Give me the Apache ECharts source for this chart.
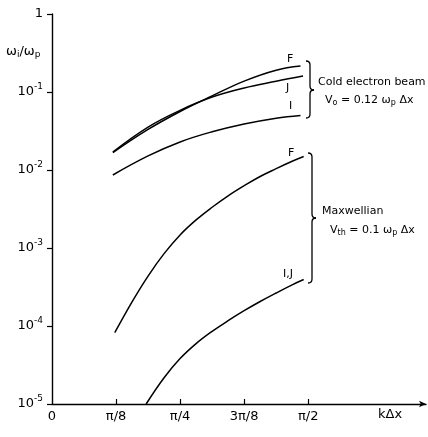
<!DOCTYPE html>
<html><head><meta charset="utf-8">
<script src="https://cdn.jsdelivr.net/npm/echarts@6/dist/echarts.min.js"></script>
<style>html,body{margin:0;padding:0;background:#fff}#c{width:428px;height:437px}</style>
</head><body><div id="c"></div>
<script>
// k Δx in units of π/8
var xTickValues = [0, 1, 2, 3, 4];
var xTickLabels = ['0', 'π/8', 'π/4', '3π/8', 'π/2'];
var yTickExponents = [0, -1, -2, -3, -4, -5];

var coldF_k = [0.95, 1.5, 2.0, 2.5, 3.0, 3.5, 3.88];
var coldF_w = [0.0167, 0.0331, 0.0562, 0.0891, 0.138, 0.1905, 0.2153];
var coldJ_k = [0.95, 1.5, 2.0, 2.5, 3.0, 3.5, 3.92];
var coldJ_w = [0.0170, 0.0355, 0.0582, 0.0861, 0.1127, 0.1374, 0.1603];
var coldI_k = [0.95, 1.5, 2.0, 2.5, 3.0, 3.5, 3.88];
var coldI_w = [0.00863, 0.01514, 0.0229, 0.0309, 0.0389, 0.0462, 0.0501];
var maxF_k = [0.98, 1.25, 1.5, 1.75, 2.0, 2.25, 2.5, 2.75, 3.0, 3.25, 3.5, 3.75, 3.93];
var maxF_w = [8.2e-5, 2.04e-4, 4.37e-4, 8.47e-4, 1.47e-3, 2.29e-3, 3.33e-3, 4.67e-3, 6.29e-3, 8.26e-3, 0.0104, 0.01294, 0.01489];
var maxIJ_k = [1.47, 1.75, 2.0, 2.25, 2.5, 2.75, 3.0, 3.25, 3.5, 3.75, 3.93];
var maxIJ_w = [1.0e-5, 2.17e-5, 3.82e-5, 5.94e-5, 8.53e-5, 1.17e-4, 1.57e-4, 2.06e-4, 2.65e-4, 3.37e-4, 3.94e-4];

function pairs(k, w) { return k.map(function (v, i) { return [v, w[i]]; }); }
var FONT = 'DejaVu Sans';
var lineStyle = { color: '#000', width: 1.5 };
function mk(name, k, w) {
  return { name: name, type: 'line', data: pairs(k, w), smooth: 0.4, symbol: 'none',
           lineStyle: lineStyle, silent: true, animation: false };
}

var bStyle = { stroke: '#000', lineWidth: 1.3, fill: null };
function brace(x, y0, ym, y1, w) {
  var h = w / 2;
  function q(x1, y1, cx, cy, x2, y2) {
    return { type: 'bezierCurve', silent: true, shape: { x1: x1, y1: y1, cpx1: cx, cpy1: cy, x2: x2, y2: y2 }, style: bStyle };
  }
  function l(x1, y1, x2, y2) {
    return { type: 'line', silent: true, shape: { x1: x1, y1: y1, x2: x2, y2: y2 }, style: bStyle };
  }
  return [
    q(x, y0, x + h, y0, x + h, y0 + 4),
    l(x + h, y0 + 4, x + h, ym - 4),
    q(x + h, ym - 4, x + h, ym, x + w, ym),
    q(x + w, ym, x + h, ym, x + h, ym + 4),
    l(x + h, ym + 4, x + h, y1 - 4),
    q(x + h, y1 - 4, x + h, y1, x, y1)
  ];
}
function subRich(n, s) {
  return {
    n: { fontSize: n, fontFamily: FONT, fill: '#000' },
    s: { fontSize: s, fontFamily: FONT, fill: '#000', padding: [6, 0, 0, 0] }
  };
}
function txt(x, y, text, size, rich) {
  var st = { text: text, fontSize: size || 11, fontFamily: FONT, fill: '#000' };
  if (rich) st.rich = rich;
  return { type: 'text', x: x, y: y, silent: true, style: st };
}

var chart = echarts.init(document.getElementById('c'), null, { renderer: 'canvas' });
chart.setOption({
  animation: false,
  backgroundColor: '#fff',
  grid: { left: 52, right: 2, top: 14, bottom: 33 },
  xAxis: {
    type: 'value', min: 0, max: 5.84,
    axisLine: { lineStyle: { color: '#000', width: 1.4 }, symbol: ['none', 'arrow'], symbolSize: [5, 7] },
    axisTick: { inside: true, length: 5, lineStyle: { color: '#000', width: 1.2 }, customValues: [1, 2, 3, 4] },
    axisLabel: { customValues: xTickValues, margin: 6, color: '#000', fontSize: 13, fontFamily: FONT,
      formatter: function (v) { var i = xTickValues.indexOf(Math.round(v)); return i >= 0 ? xTickLabels[i] : ''; } },
    splitLine: { show: false }
  },
  yAxis: {
    type: 'log', logBase: 10, min: 1e-5, max: 1, splitNumber: 5,
    axisLine: { show: true, lineStyle: { color: '#000', width: 1.4 } },
    axisTick: { show: true, length: 5, lineStyle: { color: '#000', width: 1.2 } },
    axisLabel: { margin: 9, color: '#000', fontSize: 13, fontFamily: FONT,
      formatter: function (v) {
        var e = Math.round(Math.log10(v));
        if (yTickExponents.indexOf(e) < 0) return '';
        return e === 0 ? '{b|1}' : '{b|10}{s|' + e + '}';
      },
      rich: { b: { fontSize: 13, fontFamily: FONT, color: '#000' },
              s: { fontSize: 9, fontFamily: FONT, color: '#000', padding: [0, 0, 10, 0] } } },
    splitLine: { show: false }
  },
  series: [
    mk('F cold', coldF_k, coldF_w),
    mk('J cold', coldJ_k, coldJ_w),
    mk('I cold', coldI_k, coldI_w),
    mk('F Maxwellian', maxF_k, maxF_w),
    mk('I,J Maxwellian', maxIJ_k, maxIJ_w)
  ],
  graphic: [].concat(
    [
      txt(6, 44, '{n|ω}{s|i}{n|/ω}{s|p}', 13, subRich(13, 9)),
      txt(378, 408, 'kΔx', 13),
      txt(287, 54, 'F', 11), txt(286, 83, 'J', 11), txt(289, 101, 'I', 11),
      txt(288, 148, 'F', 11), txt(283, 269, 'I,J', 11),
      txt(318, 77, 'Cold electron beam', 11),
      txt(325, 93, '{n|V}{s|o}{n| = 0.12 ω}{s|p}{n| Δx}', 11, subRich(11, 8)),
      txt(322, 206, 'Maxwellian', 11),
      txt(330, 223, '{n|V}{s|th}{n| = 0.1 ω}{s|p}{n| Δx}', 11, subRich(11, 8))
    ],
    brace(306, 61, 90, 118, 8),
    brace(308, 153, 218, 283, 8)
  )
});
</script></body></html>
